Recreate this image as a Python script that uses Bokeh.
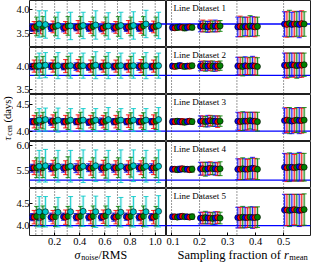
import math
from bokeh.plotting import figure
from bokeh.models import Range1d, FixedTicker, Span, Label, PrintfTickFormatter
from bokeh.layouts import gridplot, row, column
from bokeh.embed import file_html
from bokeh.resources import INLINE

FONT = "'Liberation Serif'"

# ---------------- data ----------------
noise_levels = [0.05, 0.1, 0.2, 0.3, 0.4, 0.5, 0.6, 0.7, 0.8, 0.9, 1.0]
sampling_fractions = [0.1, 0.2, 1 / 3, 0.5]
noise_ticks = [0.2, 0.4, 0.6, 0.8, 1.0]
sampling_ticks = [0.1, 0.2, 0.3, 0.4, 0.5]
dataset_names = ["Line Dataset 1", "Line Dataset 2", "Line Dataset 3",
                 "Line Dataset 4", "Line Dataset 5"]
true_lags = [3.70, 3.80, 4.00, 5.30, 4.00]
lag_ticks = [[3.5, 4.0], [3.5, 4.0], [4.0, 4.5], [5.5, 6.0], [4.0, 4.5]]
lag_limits = [(3.22, 4.18), (3.39, 4.40), (3.80, 4.70), (5.13, 6.08), (3.78, 4.83)]

# noise test (left column): one list of 11 values per dataset
noise_lag_blue = [
    [3.62, 3.61, 3.62, 3.62, 3.63, 3.62, 3.61, 3.62, 3.62, 3.62, 3.62],
    [3.99, 3.99, 4.00, 3.99, 3.99, 3.98, 3.99, 3.99, 3.99, 3.99, 3.99],
    [4.18, 4.17, 4.18, 4.18, 4.18, 4.17, 4.18, 4.18, 4.18, 4.18, 4.18],
    [5.54, 5.54, 5.55, 5.54, 5.54, 5.55, 5.54, 5.54, 5.54, 5.55, 5.54],
    [4.19, 4.19, 4.19, 4.20, 4.19, 4.19, 4.19, 4.19, 4.20, 4.19, 4.19],
]
noise_err_blue = [
    [0.07, 0.07, 0.07, 0.08, 0.07, 0.07, 0.07, 0.08, 0.07, 0.07, 0.07],
    [0.07, 0.07, 0.07, 0.07, 0.08, 0.07, 0.07, 0.07, 0.07, 0.08, 0.07],
    [0.06, 0.06, 0.07, 0.06, 0.06, 0.06, 0.07, 0.06, 0.06, 0.06, 0.06],
    [0.08, 0.08, 0.08, 0.08, 0.09, 0.08, 0.08, 0.08, 0.08, 0.08, 0.09],
    [0.08, 0.08, 0.09, 0.08, 0.08, 0.08, 0.08, 0.09, 0.08, 0.08, 0.08],
]
noise_lag_red = [
    [3.63, 3.63, 3.64, 3.63, 3.64, 3.63, 3.62, 3.63, 3.64, 3.63, 3.64],
    [4.00, 4.00, 4.00, 4.00, 4.01, 4.00, 4.00, 4.00, 4.00, 4.00, 4.00],
    [4.18, 4.18, 4.19, 4.18, 4.18, 4.18, 4.18, 4.18, 4.19, 4.18, 4.18],
    [5.55, 5.54, 5.55, 5.55, 5.55, 5.54, 5.55, 5.55, 5.55, 5.55, 5.55],
    [4.19, 4.18, 4.19, 4.19, 4.19, 4.19, 4.20, 4.19, 4.19, 4.19, 4.19],
]
noise_err_red = [
    [0.12, 0.13, 0.12, 0.12, 0.13, 0.12, 0.12, 0.12, 0.13, 0.12, 0.12],
    [0.13, 0.13, 0.13, 0.14, 0.13, 0.13, 0.13, 0.13, 0.13, 0.14, 0.13],
    [0.12, 0.12, 0.12, 0.12, 0.13, 0.12, 0.12, 0.12, 0.12, 0.12, 0.13],
    [0.14, 0.14, 0.15, 0.14, 0.14, 0.14, 0.15, 0.14, 0.14, 0.14, 0.14],
    [0.15, 0.15, 0.15, 0.16, 0.15, 0.15, 0.15, 0.15, 0.16, 0.15, 0.15],
]
noise_lag_green = [
    [3.65, 3.65, 3.65, 3.66, 3.65, 3.65, 3.65, 3.65, 3.65, 3.66, 3.65],
    [4.00, 4.01, 4.00, 4.00, 4.00, 4.00, 4.01, 4.00, 4.00, 4.00, 4.00],
    [4.19, 4.20, 4.19, 4.19, 4.20, 4.19, 4.19, 4.20, 4.19, 4.19, 4.19],
    [5.55, 5.55, 5.55, 5.56, 5.55, 5.55, 5.55, 5.55, 5.56, 5.55, 5.55],
    [4.21, 4.21, 4.20, 4.21, 4.21, 4.21, 4.22, 4.21, 4.21, 4.21, 4.21],
]
noise_err_green = [
    [0.19, 0.20, 0.19, 0.19, 0.20, 0.19, 0.19, 0.20, 0.19, 0.19, 0.19],
    [0.20, 0.20, 0.20, 0.21, 0.20, 0.20, 0.20, 0.20, 0.21, 0.20, 0.20],
    [0.16, 0.16, 0.17, 0.16, 0.16, 0.16, 0.16, 0.17, 0.16, 0.16, 0.16],
    [0.20, 0.20, 0.20, 0.21, 0.20, 0.20, 0.21, 0.20, 0.20, 0.20, 0.20],
    [0.22, 0.23, 0.22, 0.22, 0.22, 0.23, 0.22, 0.22, 0.22, 0.23, 0.22],
]
noise_lag_cyan = [
    [3.70, 3.69, 3.67, 3.66, 3.67, 3.68, 3.66, 3.67, 3.67, 3.70, 3.67],
    [4.01, 4.02, 4.01, 4.01, 4.01, 4.02, 4.01, 4.01, 4.01, 4.01, 4.01],
    [4.21, 4.22, 4.21, 4.21, 4.21, 4.21, 4.22, 4.21, 4.21, 4.21, 4.22],
    [5.58, 5.59, 5.58, 5.58, 5.58, 5.59, 5.58, 5.58, 5.59, 5.58, 5.58],
    [4.31, 4.31, 4.30, 4.31, 4.32, 4.31, 4.31, 4.30, 4.31, 4.31, 4.32],
]
noise_err_cyan = [
    [0.27, 0.28, 0.27, 0.28, 0.27, 0.29, 0.27, 0.27, 0.28, 0.28, 0.27],
    [0.27, 0.27, 0.28, 0.27, 0.27, 0.29, 0.28, 0.27, 0.27, 0.28, 0.27],
    [0.22, 0.22, 0.23, 0.22, 0.22, 0.22, 0.23, 0.22, 0.22, 0.22, 0.23],
    [0.32, 0.33, 0.32, 0.32, 0.33, 0.32, 0.32, 0.33, 0.32, 0.32, 0.33],
    [0.34, 0.34, 0.33, 0.34, 0.34, 0.35, 0.34, 0.33, 0.34, 0.34, 0.35],
]

# sampling test (right column): per dataset, 4 fractions x 9 realisations
sampling_lag_1 = [
    [3.63, 3.62, 3.63, 3.64, 3.63, 3.62, 3.63, 3.64, 3.63],
    [3.65, 3.66, 3.65, 3.64, 3.66, 3.65, 3.66, 3.65, 3.66],
    [3.64, 3.65, 3.64, 3.65, 3.64, 3.66, 3.65, 3.64, 3.65],
    [3.70, 3.69, 3.71, 3.69, 3.70, 3.70, 3.69, 3.71, 3.70],
]
sampling_err_1 = [
    [0.05, 0.05, 0.06, 0.05, 0.05, 0.06, 0.05, 0.05, 0.05],
    [0.11, 0.12, 0.11, 0.11, 0.12, 0.11, 0.12, 0.11, 0.11],
    [0.20, 0.21, 0.20, 0.19, 0.20, 0.21, 0.20, 0.20, 0.19],
    [0.25, 0.26, 0.27, 0.25, 0.26, 0.25, 0.27, 0.26, 0.25],
]
sampling_lag_2 = [
    [4.00, 3.99, 4.00, 4.01, 4.00, 3.99, 4.00, 4.00, 4.01],
    [4.00, 4.01, 4.00, 4.00, 4.01, 4.00, 3.99, 4.00, 4.01],
    [4.00, 4.00, 3.99, 4.01, 4.00, 4.00, 4.01, 4.00, 3.99],
    [4.02, 4.01, 4.02, 4.03, 4.02, 4.01, 4.02, 4.02, 4.03],
]
sampling_err_2 = [
    [0.05, 0.05, 0.05, 0.06, 0.05, 0.05, 0.05, 0.06, 0.05],
    [0.10, 0.10, 0.11, 0.10, 0.10, 0.11, 0.10, 0.10, 0.10],
    [0.19, 0.19, 0.20, 0.19, 0.18, 0.19, 0.20, 0.19, 0.19],
    [0.26, 0.27, 0.26, 0.25, 0.26, 0.27, 0.26, 0.26, 0.25],
]
sampling_lag_3 = [
    [4.18, 4.18, 4.19, 4.18, 4.18, 4.17, 4.18, 4.19, 4.18],
    [4.19, 4.19, 4.18, 4.19, 4.20, 4.19, 4.19, 4.18, 4.19],
    [4.19, 4.18, 4.19, 4.19, 4.19, 4.20, 4.19, 4.19, 4.18],
    [4.20, 4.21, 4.20, 4.19, 4.20, 4.21, 4.20, 4.20, 4.21],
]
sampling_err_3 = [
    [0.05, 0.05, 0.05, 0.05, 0.06, 0.05, 0.05, 0.05, 0.05],
    [0.10, 0.10, 0.10, 0.11, 0.10, 0.10, 0.10, 0.11, 0.10],
    [0.17, 0.17, 0.18, 0.17, 0.17, 0.16, 0.17, 0.17, 0.18],
    [0.24, 0.24, 0.25, 0.24, 0.23, 0.24, 0.25, 0.24, 0.24],
]
sampling_lag_4 = [
    [5.52, 5.52, 5.51, 5.52, 5.53, 5.52, 5.52, 5.51, 5.52],
    [5.53, 5.53, 5.52, 5.53, 5.54, 5.53, 5.53, 5.52, 5.53],
    [5.52, 5.52, 5.53, 5.52, 5.52, 5.53, 5.54, 5.53, 5.52],
    [5.56, 5.55, 5.56, 5.56, 5.55, 5.56, 5.57, 5.56, 5.56],
]
sampling_err_4 = [
    [0.05, 0.05, 0.05, 0.06, 0.05, 0.05, 0.05, 0.05, 0.06],
    [0.13, 0.13, 0.14, 0.13, 0.13, 0.12, 0.13, 0.13, 0.14],
    [0.21, 0.21, 0.22, 0.21, 0.20, 0.21, 0.22, 0.21, 0.21],
    [0.28, 0.28, 0.29, 0.28, 0.27, 0.28, 0.29, 0.28, 0.28],
]
sampling_lag_5 = [
    [4.20, 4.20, 4.19, 4.20, 4.21, 4.20, 4.20, 4.19, 4.20],
    [4.17, 4.17, 4.18, 4.17, 4.17, 4.16, 4.17, 4.18, 4.17],
    [4.18, 4.18, 4.19, 4.18, 4.18, 4.19, 4.18, 4.18, 4.19],
    [4.35, 4.35, 4.34, 4.35, 4.36, 4.35, 4.34, 4.35, 4.36],
]
sampling_err_5 = [
    [0.05, 0.05, 0.05, 0.06, 0.05, 0.05, 0.05, 0.05, 0.06],
    [0.13, 0.13, 0.14, 0.13, 0.13, 0.13, 0.14, 0.13, 0.13],
    [0.23, 0.23, 0.24, 0.23, 0.22, 0.23, 0.24, 0.23, 0.23],
    [0.35, 0.35, 0.36, 0.35, 0.34, 0.35, 0.36, 0.35, 0.35],
]

sampling_lag = [sampling_lag_1, sampling_lag_2, sampling_lag_3, sampling_lag_4, sampling_lag_5]
sampling_err = [sampling_err_1, sampling_err_2, sampling_err_3, sampling_err_4, sampling_err_5]

# ---------------- styles ----------------
COL = {"blue": "#0000ff", "red": "#ff0000", "green": "#008000", "cyan": "#00c8c8"}
noise_series = [
    ("blue", noise_lag_blue, noise_err_blue, -0.030),
    ("red", noise_lag_red, noise_err_red, -0.013),
    ("green", noise_lag_green, noise_err_green, 0.007),
    ("cyan", noise_lag_cyan, noise_err_cyan, 0.027),
]
cycle = ["blue", "red", "green"]
SUB_STEP = 0.0088

LEFT_X = (0.0, 1.09)
RIGHT_X = (0.082, 0.596)
ROW_H = 47
BOTTOM = 13
YLAB_W = 13
LEFT_BORDER = 14


def style_axis(ax, ticks, standoff):
    ax.ticker = FixedTicker(ticks=ticks, minor_ticks=[])
    ax.formatter = PrintfTickFormatter(format="%.1f")
    ax.major_tick_in = 3
    ax.major_tick_out = 0
    ax.minor_tick_line_color = None
    ax.axis_line_color = None
    ax.major_tick_line_color = "black"
    ax.major_label_text_font = FONT
    ax.major_label_text_color = "black"
    ax.major_label_text_font_size = "10.5px"
    ax.major_label_standoff = standoff


def make_fig(width, height, xr, yr, bl, br, bb, xaxis, yaxis):
    p = figure(width=width, height=height, x_range=Range1d(*xr), y_range=Range1d(*yr),
               output_backend="svg", toolbar_location=None,
               min_border_left=bl, min_border_right=br, min_border_top=0,
               min_border_bottom=bb,
               x_axis_location="below" if xaxis else None,
               y_axis_location="left" if yaxis else None)
    p.grid.visible = False
    p.outline_line_color = "#202020"
    p.outline_line_width = 1
    p.background_fill_color = "white"
    p.border_fill_color = "white"
    return p


def errorbars(p, xs, ys, errs, colors):
    lo = [y - e for y, e in zip(ys, errs)]
    hi = [y + e for y, e in zip(ys, errs)]
    p.segment(x0=xs, y0=lo, x1=xs, y1=hi, line_color=colors, line_width=3, line_alpha=0.18)
    p.segment(x0=xs, y0=lo, x1=xs, y1=hi, line_color=colors, line_width=1, line_alpha=0.85)
    p.scatter(x=xs + xs, y=lo + hi, marker="dash", size=5, line_color=colors + colors,
              line_width=1, line_alpha=0.85)
    p.scatter(x=xs, y=ys, marker="circle", size=6, fill_color=colors,
              line_color="black", line_width=0.6)


rows = []
for i in range(5):
    last = i == 4
    h = ROW_H + (BOTTOM if last else 0)
    left = make_fig(174 - 8 - YLAB_W, h, LEFT_X, lag_limits[i], LEFT_BORDER, 0,
                    BOTTOM if last else 0, last, True)
    right = make_fig(150, h, RIGHT_X, lag_limits[i], 0, 6, BOTTOM if last else 0, last, False)

    style_axis(left.yaxis[0], lag_ticks[i], 0)
    if last:
        style_axis(left.xaxis[0], noise_ticks, 2)
        style_axis(right.xaxis[0], sampling_ticks, 2)

    for p in (left, right):
        p.add_layout(Span(location=true_lags[i], dimension="width", line_color="#0000ff",
                          line_width=1.3, level="underlay"))
    for n in noise_levels:
        left.add_layout(Span(location=n, dimension="height", line_color="#333333",
                             line_width=1, line_dash="1 2", level="underlay"))
    for f in sampling_fractions:
        right.add_layout(Span(location=f, dimension="height", line_color="#333333",
                              line_width=1, line_dash="1 2", level="underlay"))

    for name, lags, errs, off in noise_series:
        xs = [n + off for n in noise_levels]
        errorbars(left, xs, lags[i], errs[i], [COL[name]] * len(xs))

    for j, f in enumerate(sampling_fractions):
        ys = sampling_lag[i][j]
        es = sampling_err[i][j]
        xs = [f + 0.003 + SUB_STEP * k for k in range(len(ys))]
        cols = [COL[cycle[k % 3]] for k in range(len(ys))]
        errorbars(right, xs, ys, es, cols)

    right.add_layout(Label(x=sampling_fractions[0], y=lag_limits[i][1], x_offset=2, y_offset=-2,
                           text=dataset_names[i], text_baseline="top", text_align="left",
                           text_font=FONT, text_font_size="9px", text_color="black"))
    rows.append([left, right])

grid = gridplot(rows, toolbar_location=None)

GRID_H = 5 * ROW_H + BOTTOM


def text_fig(width, height, xr, yr):
    p = figure(width=width, height=height, x_range=Range1d(*xr), y_range=Range1d(*yr),
               output_backend="svg", toolbar_location=None,
               min_border_left=0, min_border_right=0, min_border_top=0, min_border_bottom=0,
               x_axis_location=None, y_axis_location=None)
    p.grid.visible = False
    p.outline_line_color = None
    p.background_fill_color = None
    p.border_fill_color = None
    return p


# y-axis title column (data coordinates equal page pixels)
ylab = text_fig(YLAB_W, GRID_H, (8, 8 + YLAB_W), (8 + GRID_H, 8))
for txt, x, y, size, style in [("τ", 14.5, 148, "10.5px", "italic"),
                               ("cen", 16.8, 143.2, "7.5px", "normal"),
                               ("(days)", 14.5, 130.0, "10.5px", "normal")]:
    ylab.add_layout(Label(x=x, y=y, text=txt, angle=math.pi / 2, text_baseline="middle",
                          text_align="left", text_font=FONT, text_font_size=size,
                          text_font_style=style, text_color="black"))

# x-axis titles row (data coordinates equal page pixels)
XLAB_H = 270 - 8 - GRID_H
xlab = text_fig(316, XLAB_H, (8, 324), (270, 270 - XLAB_H))
for txt, x, y, size, style in [("σ", 82.0, 262, "12px", "italic"),
                               ("noise", 88.8, 264.5, "8px", "normal"),
                               ("/RMS", 106.0, 262, "12px", "normal"),
                               ("Sampling fraction of", 185.0, 262, "12.5px", "normal"),
                               ("r", 291.6, 262, "12.5px", "italic"),
                               ("mean", 296.8, 264.5, "8.5px", "normal")]:
    xlab.add_layout(Label(x=x, y=y, text=txt, text_baseline="middle", text_align="left",
                          text_font=FONT, text_font_size=size, text_font_style=style,
                          text_color="black"))

layout = column(row(ylab, grid), xlab)
open("out.html", "w").write(file_html(layout, INLINE))
